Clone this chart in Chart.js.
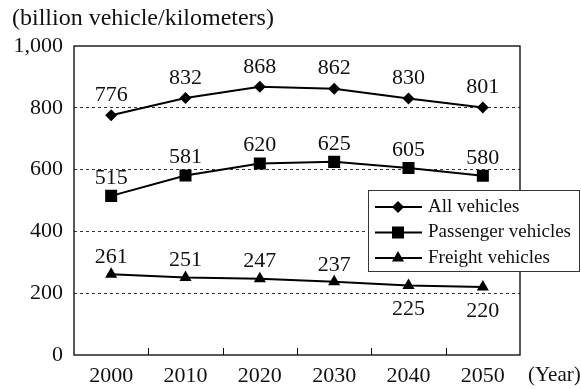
<!DOCTYPE html>
<html lang="en">
<head>
  <meta charset="UTF-8" />
  <title>Vehicle kilometers</title>
  <script src="https://cdn.jsdelivr.net/npm/chart.js"></script>
  <style>
    html, body {
      margin: 0;
      padding: 0;
      background: #fff;
    }
    #wrap {
      width: 581px;
      height: 389px;
      position: relative;
    }
  </style>
</head>
<body>
  <div id="wrap"><canvas id="chart" width="581" height="389"></canvas></div>

  <script>
    const years = ['2000', '2010', '2020', '2030', '2040', '2050'];
    const allVehicles = [776, 832, 868, 862, 830, 801];
    const passengerVehicles = [515, 581, 620, 625, 605, 580];
    const freightVehicles = [261, 251, 247, 237, 225, 220];
    // where each value label sits relative to its point
    const allLabelPos = ['above', 'above', 'above', 'above', 'above', 'above'];
    const passengerLabelPos = ['above', 'above', 'above', 'above', 'above', 'above'];
    const freightLabelPos = ['above', 'above', 'above', 'above', 'below', 'below'];
    const yTicks = [0, 200, 400, 600, 800, 1000];

    const FONT = "'Liberation Serif', 'Times New Roman', serif";

    function drawMarker(ctx, style, x, y, r) {
      ctx.beginPath();
      if (style === 'rectRot') {
        ctx.moveTo(x - r, y);
        ctx.lineTo(x, y - r);
        ctx.lineTo(x + r, y);
        ctx.lineTo(x, y + r);
      } else if (style === 'rect') {
        const s = r * Math.SQRT1_2;
        ctx.rect(x - s, y - s, 2 * s, 2 * s);
      } else {
        const h = r * 1.5, w = r * Math.sqrt(3) / 2;
        ctx.moveTo(x, y - r);
        ctx.lineTo(x + w, y - r + h);
        ctx.lineTo(x - w, y - r + h);
      }
      ctx.closePath();
      ctx.fill();
    }

    const extras = {
      id: 'extras',
      beforeDatasetsDraw(chart) {
        const { ctx, chartArea: a, scales } = chart;
        ctx.save();
        // frame
        ctx.strokeStyle = '#000';
        ctx.lineWidth = 1.3;
        ctx.strokeRect(a.left, a.top, a.right - a.left, a.bottom - a.top);
        // category separators on x axis
        ctx.lineWidth = 1;
        for (let i = 0; i < years.length - 1; i++) {
          const x = Math.round((scales.x.getPixelForValue(i) + scales.x.getPixelForValue(i + 1)) / 2) + 0.5;
          ctx.beginPath();
          ctx.moveTo(x, a.bottom);
          ctx.lineTo(x, a.bottom - 7);
          ctx.stroke();
        }
        // unit titles
        ctx.fillStyle = '#111';
        ctx.font = '24px ' + FONT;
        ctx.textBaseline = 'middle';
        ctx.textAlign = 'left';
        ctx.fillText('(billion vehicle/kilometers)', 12, 19);
        ctx.font = '21px ' + FONT;
        ctx.fillText('(Year)', 528, 375);
        ctx.restore();
      },
      afterDatasetsDraw(chart) {
        const { ctx } = chart;
        const positions = [allLabelPos, passengerLabelPos, freightLabelPos];
        const aboveGap = [20, 18, 17];
        ctx.save();
        ctx.fillStyle = '#111';
        ctx.font = '22px ' + FONT;
        ctx.textAlign = 'center';
        ctx.textBaseline = 'middle';
        chart.data.datasets.forEach((ds, di) => {
          const meta = chart.getDatasetMeta(di);
          meta.data.forEach((pt, i) => {
            const dy = positions[di][i] === 'below' ? 24 : -aboveGap[di];
            ctx.fillText(String(ds.data[i]), pt.x, pt.y + dy);
          });
        });

        // legend box
        const bx = 368, by = 190, bw = 212, bh = 82;
        ctx.fillStyle = '#fff';
        ctx.fillRect(bx, by, bw, bh);
        ctx.strokeStyle = '#333';
        ctx.lineWidth = 1;
        ctx.strokeRect(bx + 0.5, by + 0.5, bw - 1, bh - 1);
        ctx.font = '19px ' + FONT;
        ctx.textAlign = 'left';
        chart.data.datasets.forEach((ds, di) => {
          const y = by + 17 + di * 25.5;
          ctx.strokeStyle = '#000';
          ctx.lineWidth = 2;
          ctx.beginPath();
          ctx.moveTo(bx + 7, y);
          ctx.lineTo(bx + 54, y);
          ctx.stroke();
          ctx.fillStyle = '#000';
          drawMarker(ctx, ds.pointStyle, bx + 30, y, ds.pointRadius);
          ctx.fillStyle = '#111';
          ctx.fillText(ds.label, bx + 60, y);
        });
        ctx.restore();
      }
    };

    function series(label, data, style, radius) {
      return {
        label: label,
        data: data,
        borderColor: '#000',
        backgroundColor: '#000',
        borderWidth: 2,
        pointStyle: style,
        pointRadius: radius,
        pointHoverRadius: radius,
        pointBorderWidth: 0,
        tension: 0
      };
    }

    new Chart(document.getElementById('chart'), {
      type: 'line',
      data: {
        labels: years,
        datasets: [
          series('All vehicles', allVehicles, 'rectRot', 6),
          series('Passenger vehicles', passengerVehicles, 'rect', 8.5),
          series('Freight vehicles', freightVehicles, 'triangle', 7)
        ]
      },
      options: {
        responsive: false,
        animation: false,
        devicePixelRatio: 1,
        layout: { padding: { top: 46, right: 61, left: 0, bottom: 0 } },
        plugins: {
          legend: { display: false },
          tooltip: { enabled: false },
          title: { display: false }
        },
        scales: {
          x: {
            offset: true,
            afterFit: s => { s.height = 34; },
            grid: { display: false, drawTicks: false },
            border: { display: false },
            ticks: {
              color: '#111',
              font: { family: FONT, size: 22 },
              padding: 8,
              maxRotation: 0
            }
          },
          y: {
            min: 0,
            max: 1000,
            afterFit: s => { s.width = 74; },
            afterBuildTicks: s => { s.ticks = yTicks.map(v => ({ value: v })); },
            grid: {
              drawTicks: false,
              color: c => (c.tick && (c.tick.value === 0 || c.tick.value === 1000)) ? 'rgba(0,0,0,0)' : '#333',
              lineWidth: 1
            },
            border: { display: false, dash: [3, 3] },
            ticks: {
              color: '#111',
              font: { family: FONT, size: 22 },
              padding: 11,
              callback: v => v.toLocaleString('en-US')
            }
          }
        }
      },
      plugins: [extras]
    });
  </script>
</body>
</html>
